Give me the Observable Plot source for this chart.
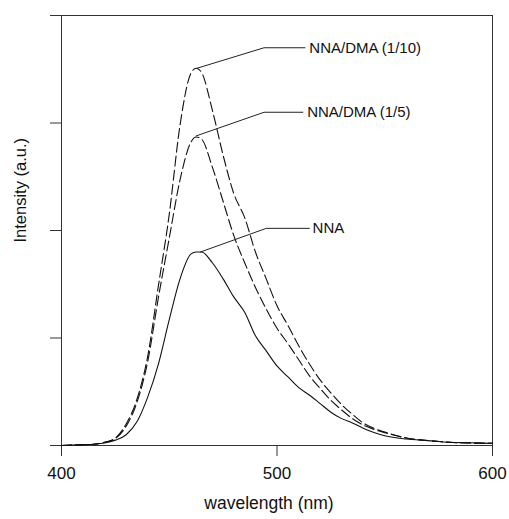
<!DOCTYPE html>
<html><head><meta charset="utf-8">
<script src="https://cdn.jsdelivr.net/npm/d3@7"></script>
<script src="https://cdn.jsdelivr.net/npm/@observablehq/plot@0.6"></script>
<style>body{margin:0;background:#fff}</style>
</head><body><div id="chart"></div>
<script>
const wavelength = [400,405,410,415,420,425,430,435,440,445,450,455,460,462.5,465,470,475,480,485,490,495,500,505,510,515,520,525,530,535,540,545,550,560,570,580,590,600];
const nna   = [0,0.004,0.008,0.012,0.023,0.05,0.10,0.22,0.45,0.76,1.17,1.55,1.78,1.80,1.80,1.70,1.55,1.38,1.24,1.02,0.88,0.74,0.64,0.54,0.47,0.39,0.31,0.25,0.21,0.16,0.12,0.09,0.06,0.045,0.03,0.025,0.02];
const dma5  = [0,0.004,0.008,0.012,0.03,0.065,0.18,0.40,0.78,1.38,1.93,2.47,2.82,2.87,2.85,2.59,2.27,1.95,1.70,1.47,1.27,1.09,0.95,0.80,0.65,0.53,0.42,0.33,0.25,0.19,0.15,0.12,0.07,0.047,0.03,0.023,0.02];
const dma10 = [0,0.004,0.008,0.012,0.03,0.07,0.20,0.43,0.83,1.49,2.15,2.98,3.46,3.51,3.47,3.12,2.70,2.34,2.12,1.80,1.55,1.30,1.12,0.93,0.76,0.61,0.49,0.38,0.29,0.21,0.16,0.125,0.07,0.047,0.03,0.023,0.02];

const xTicks = [400,500,600];
const yTicks = [0,1,2,3,4];
const xLabel = "wavelength (nm)";
const yLabel = "Intensity (a.u.)";

const labelNames = ["NNA/DMA (1/10)","NNA/DMA (1/5)","NNA"];
const anchorWl  = [463, 462.5, 464.5];
const anchorVal = [3.51, 2.88, 1.80];
const elbowWl   = [494, 494, 495];
const elbowVal  = [3.70, 3.10, 2.02];
const endWl     = [513, 512, 515];
const textWl    = [515, 514, 516.5];

const series = [
  {name:"NNA", values:nna},
  {name:"NNA/DMA (1/5)", values:dma5},
  {name:"NNA/DMA (1/10)", values:dma10}
];
const rows = series.flatMap(s => wavelength.map((w,i) => ({series:s.name, wl:w, v:s.values[i]})));
const connectors = labelNames.flatMap((n,i) => [
  {name:n, wl:anchorWl[i], v:anchorVal[i]},
  {name:n, wl:elbowWl[i], v:elbowVal[i]},
  {name:n, wl:endWl[i], v:elbowVal[i]}
]);
const labels = labelNames.map((n,i) => ({name:n, wl:textWl[i], v:elbowVal[i]}));

const chart = Plot.plot({
  width:509, height:519,
  marginTop:15, marginLeft:61, marginRight:17, marginBottom:74,
  x:{domain:[400,600]},
  y:{domain:[0,4]},
  style:{fontFamily:"'Liberation Sans', Arial, sans-serif", background:"#fff", color:"#111"},
  marks:[
    Plot.frame({stroke:"#333", strokeWidth:1}),
    Plot.axisX({ticks:xTicks, tickSize:11, tickPadding:10, fontSize:17, label:null, tickFormat:d=>String(d), stroke:"#333"}),
    Plot.axisY({ticks:yTicks, tickSize:11, tickFormat:()=>"", label:null, stroke:"#333"}),
    Plot.line(rows.filter(d=>d.series==="NNA"), {x:"wl", y:"v", stroke:"#111", strokeWidth:1.1, curve:"monotone-x"}),
    Plot.line(rows.filter(d=>d.series!=="NNA"), {x:"wl", y:"v", z:"series", stroke:"#111", strokeWidth:1.1, strokeDasharray:"10,4", curve:"monotone-x"}),
    Plot.line(connectors, {x:"wl", y:"v", z:"name", stroke:"#222", strokeWidth:1}),
    Plot.text(labels, {x:"wl", y:"v", text:"name", textAnchor:"start", fontSize:15, fill:"#111"}),
    Plot.text([xLabel], {frameAnchor:"bottom", dx:-8, dy:63, fontSize:17.5, text:d=>d, fill:"#111"}),
    Plot.text([yLabel], {frameAnchor:"left", dx:-41, dy:12, rotate:-90, fontSize:16.5, text:d=>d, fill:"#111"})
  ]
});
document.getElementById("chart").append(chart);
</script>
</body></html>
